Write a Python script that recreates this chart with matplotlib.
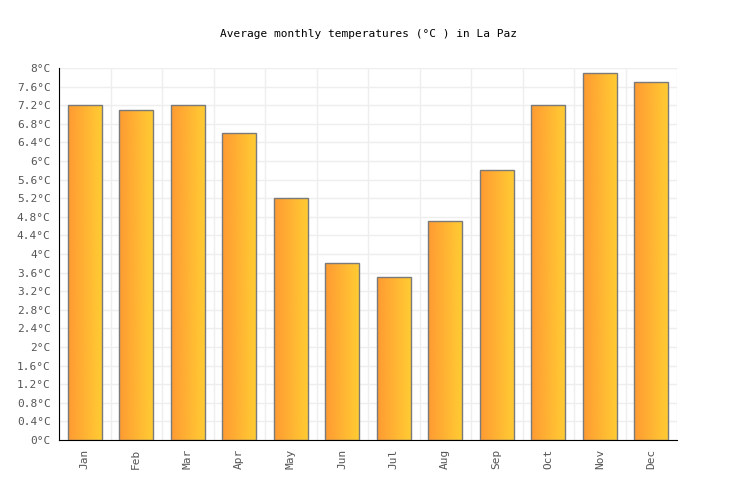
import matplotlib
matplotlib.use("Agg")
import matplotlib.pyplot as plt
import numpy as np

months = ["Jan", "Feb", "Mar", "Apr", "May", "Jun",
          "Jul", "Aug", "Sep", "Oct", "Nov", "Dec"]
temps = [7.2, 7.1, 7.2, 6.6, 5.2, 3.8, 3.5, 4.7, 5.8, 7.2, 7.9, 7.7]
yticks = [round(0.4 * i, 1) for i in range(21)]
ytick_labels = ["%g°C" % t for t in yticks]

plt.rcParams["font.family"] = ["DejaVu Sans Mono"]

fig = plt.figure(figsize=(7.36, 5.0), dpi=100)
ax = fig.add_axes([59 / 736, 60 / 500, 618 / 736, 372 / 500])

x = np.arange(len(months))
bars = ax.bar(x, temps, width=0.66, color="none", edgecolor="#7a7a7a",
              linewidth=1.0, zorder=3)

# left-to-right orange gradient inside each bar
grad = np.linspace(0, 1, 256).reshape(1, -1)
cmap = matplotlib.colors.LinearSegmentedColormap.from_list("og", ["#ff9a33", "#ffcc33"])
for b in bars:
    x0, y0 = b.get_x(), b.get_y()
    im = ax.imshow(grad, cmap=cmap, aspect="auto", zorder=2,
                   extent=(x0, x0 + b.get_width(), y0, y0 + b.get_height()))
    im.set_clip_path(b)

ax.set_xlim(-0.5, len(months) - 0.5)
ax.set_ylim(0, 8)
ax.set_yticks(yticks)
ax.set_yticklabels(ytick_labels)
ax.set_xticks(x)
ax.set_xticklabels(months, rotation=90)

# vertical grid at category boundaries
ax.set_xticks(np.arange(len(months) + 1) - 0.5, minor=True)
ax.grid(which="minor", axis="x", color="#eeeeee", linewidth=1, zorder=0)
ax.grid(which="major", axis="y", color="#eeeeee", linewidth=1, zorder=0)
ax.tick_params(axis="x", which="minor", length=0)
ax.tick_params(axis="both", which="major", length=0, labelsize=8,
               labelcolor="#555555", pad=6)

for side in ["top", "right"]:
    ax.spines[side].set_visible(False)
ax.spines["left"].set_color("black")
ax.spines["bottom"].set_color("black")

fig.text(368 / 736, 1 - 34 / 500, "Average monthly temperatures (°C ) in La Paz",
         ha="center", va="center", fontsize=8, color="black")

fig.savefig("out.png", dpi=100)
